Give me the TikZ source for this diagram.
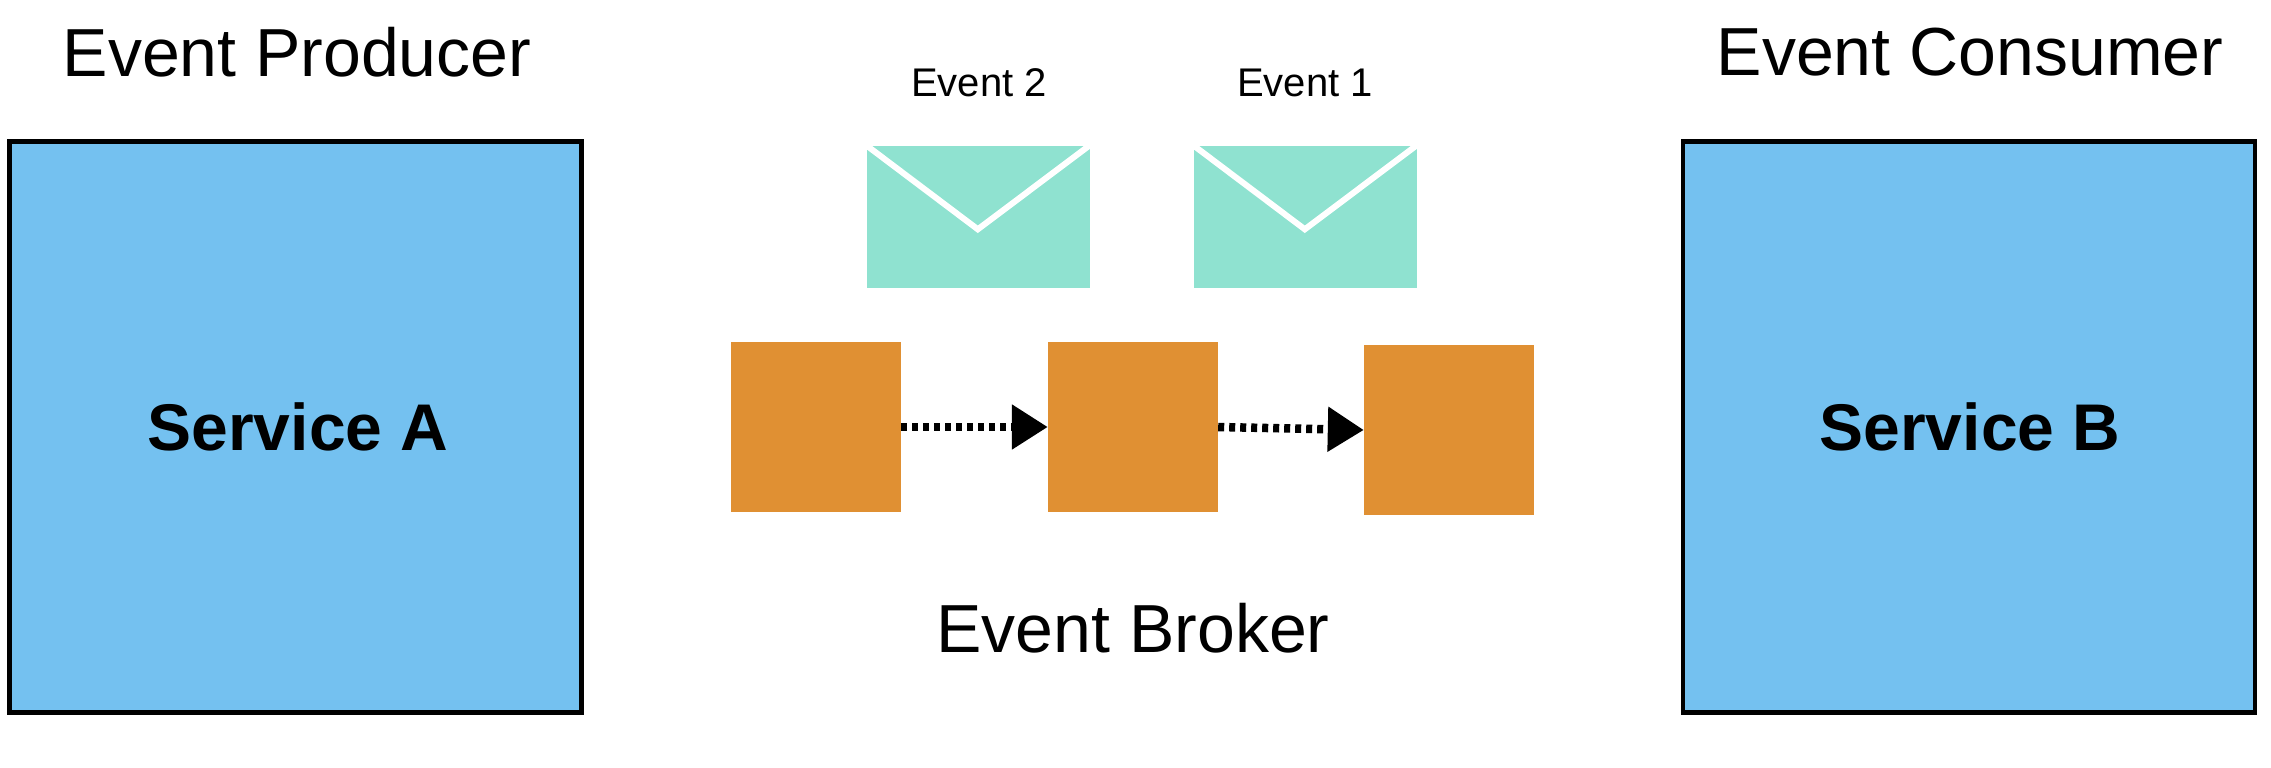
\documentclass[tikz,border=0pt]{standalone}
\usepackage{fontspec}
\setmainfont{Liberation Sans}
\usetikzlibrary{arrows.meta}
\definecolor{svcblue}{HTML}{74C1F0}
\definecolor{envgreen}{HTML}{8FE2D0}
\definecolor{brokerorange}{HTML}{E09033}
\tikzset{
  service/.style={draw=black,line width=4.5pt,fill=svcblue,minimum width=572pt,minimum height=571pt,inner sep=0pt,font=\fontsize{66pt}{74pt}\selectfont\bfseries},
  envelope/.style={fill=envgreen,minimum width=223pt,minimum height=142pt,inner sep=0pt},
  flap/.style={draw=white,line width=6pt,miter limit=10},
  broker/.style={fill=brokerorange,minimum width=170pt,minimum height=170pt,inner sep=0pt},
  flow/.style={draw=black,line width=8.5pt,dash pattern=on 6pt off 5pt,-{Triangle[length=36pt,width=43pt,sep=0pt]},shorten >=0pt},
  bigtext/.style={inner sep=0pt,font=\fontsize{68pt}{76pt}\selectfont},
  smalltext/.style={inner sep=0pt,font=\fontsize{40pt}{46pt}\selectfont}
}
\begin{document}
\begin{tikzpicture}[x=1pt,y=-1pt]
\useasboundingbox (0,0) rectangle (2271,768);
\node[service] (svca) at (295.5,427) {\hspace*{5pt}Service A};
\node[service] (svcb) at (1969,427) {\hspace*{2pt}Service B};
\node[bigtext] (prod) at (297,52) {Event Producer};
\node[bigtext] (cons) at (1970,52) {Event Consumer};
\node[bigtext] (brk) at (1133,628) {Event Broker};
\node[smalltext] (ev2) at (979,83) {Event 2};
\node[smalltext] (ev1) at (1305,83) {Event 1};
\node[envelope] (env2) at (978,216.5) {};
\node[envelope] (env1) at (1305,216.5) {};
\draw[flap] (env2.north west) -- ++(111.5,84) -- (env2.north east);
\draw[flap] (env1.north west) -- ++(111.5,84) -- (env1.north east);
\node[broker] (o1) at (816,427) {};
\node[broker] (o2) at (1133,427) {};
\node[broker] (o3) at (1449,430) {};
\draw[flow] (o1.east) -- (o2.west);
\draw[flow] (o2.east) -- (o3.west);
\end{tikzpicture}
\end{document}
